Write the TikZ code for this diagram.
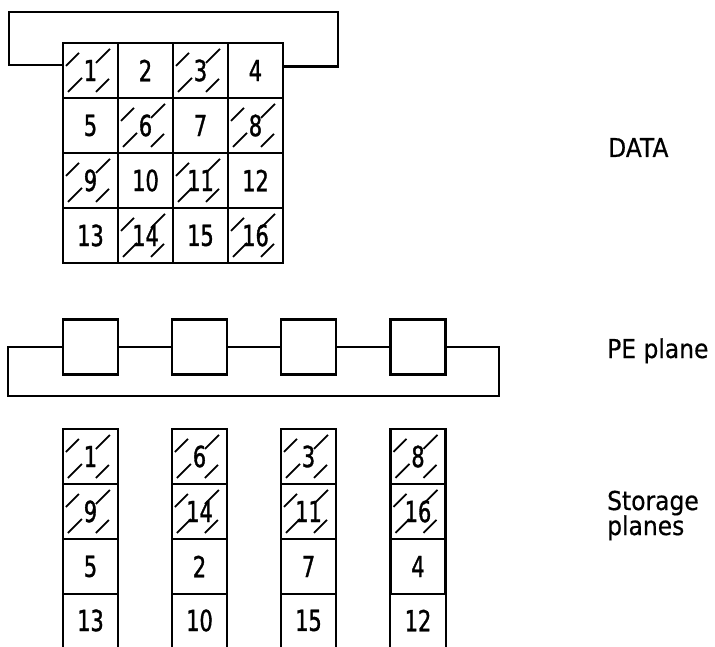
\documentclass[tikz,border=0pt]{standalone}
\usepackage{fontspec}
\setmainfont{DejaVu Sans}
\newfontfamily\labelfont[FakeStretch=0.9,FakeBold=0.6]{DejaVu Sans}
\newfontfamily\digitfont[FakeStretch=0.72,FakeBold=1.2]{DejaVu Sans}
\tikzset{
  numtext/.style={font=\digitfont\fontsize{29}{29}\selectfont},
  cell/.style={draw, line width=2.1pt, minimum width=55pt, minimum height=55pt, inner sep=0pt, numtext},
  opencell/.style={minimum width=55pt, minimum height=53pt, inner sep=0pt, numtext},
  hatchline/.style={line width=1.7pt},
  pebox/.style={draw, line width=2.1pt, minimum width=55pt, minimum height=55pt, inner sep=0pt},
  wire/.style={line width=2.1pt},
  label/.style={anchor=base west, font=\labelfont\fontsize{26}{26}\selectfont, inner sep=0pt}
}
\newcommand{\hatchcell}[1]{%
  \draw[hatchline] ([shift={(4,24)}]#1.north west) -- ([shift={(17,11)}]#1.north west)
    ([shift={(34,21)}]#1.north west) -- ([shift={(48,7)}]#1.north west)
    ([shift={(6,50)}]#1.north west) -- ([shift={(20,36)}]#1.north west)
    ([shift={(34,50)}]#1.north west) -- ([shift={(47,37)}]#1.north west);}
\begin{document}
\begin{tikzpicture}[x=1pt,y=-1pt]
\useasboundingbox (0,0) rectangle (715,647);
% DATA grid
\node[cell] (d1)  at (90.5,70.5) {1};
\node[cell] (d2)  at (145.5,70.5) {2};
\node[cell] (d3)  at (200.5,70.5) {3};
\node[cell] (d4)  at (255.5,70.5) {4};
\node[cell] (d5)  at (90.5,125.5) {5};
\node[cell] (d6)  at (145.5,125.5) {6};
\node[cell] (d7)  at (200.5,125.5) {7};
\node[cell] (d8)  at (255.5,125.5) {8};
\node[cell] (d9)  at (90.5,180.5) {9};
\node[cell] (d10) at (145.5,180.5) {10};
\node[cell] (d11) at (200.5,180.5) {11};
\node[cell] (d12) at (255.5,180.5) {12};
\node[cell] (d13) at (90.5,235.5) {13};
\node[cell] (d14) at (145.5,235.5) {14};
\node[cell] (d15) at (200.5,235.5) {15};
\node[cell] (d16) at (255.5,235.5) {16};
\foreach \n in {d1,d3,d6,d8,d9,d11,d14,d16}{\hatchcell{\n}}
\coordinate (tl) at (9,12);
\coordinate (tr) at (338,12);
\draw[wire] ([yshift=5.5pt]d1.west) -| (tl) -- (tr) |- ([yshift=4pt]d4.east);
% PE plane
\node[pebox] (p1) at (90.5,347) {};
\node[pebox] (p2) at (199.5,347) {};
\node[pebox] (p3) at (308.5,347) {};
\node[pebox] (p4) at (418,347) {};
\coordinate (br) at (499,396);
\coordinate (bl) at (8,347);
\draw[wire] (p1) -- (p2) (p2) -- (p3) (p3) -- (p4);
\draw[wire] (p4.east) -| (br) -| (bl) -- (p1.west);
% Storage planes
\node[cell]     (st1)  at (90.5,456.5) {1};
\node[cell]     (st9)  at (90.5,511.5) {9};
\node[cell]     (st5)  at (90.5,566.5) {5};
\node[opencell] (st13) at (90.5,620.5) {13};
\node[cell]     (st6)  at (199.5,456.5) {6};
\node[cell]     (st14) at (199.5,511.5) {14};
\node[cell]     (st2)  at (199.5,566.5) {2};
\node[opencell] (st10) at (199.5,620.5) {10};
\node[cell]     (st3)  at (308.5,456.5) {3};
\node[cell]     (st11) at (308.5,511.5) {11};
\node[cell]     (st7)  at (308.5,566.5) {7};
\node[opencell] (st15) at (308.5,620.5) {15};
\node[cell]     (st8)  at (418,456.5) {8};
\node[cell]     (st16) at (418,511.5) {16};
\node[cell]     (st4)  at (418,566.5) {4};
\node[opencell] (st12) at (418,620.5) {12};
\foreach \n in {st1,st9,st6,st14,st3,st11,st8,st16}{\hatchcell{\n}}
\foreach \n in {st13,st10,st15,st12}{
  \draw[wire] (\n.north west) -- (\n.south west);
  \draw[wire] (\n.north east) -- (\n.south east);
}
% Labels
\node[label] (ldata) at (608,157) {DATA};
\node[label] (lpe) at (607,358) {PE plane};
\node[label] (lst1) at (607,510) {Storage};
\node[label] (lst2) at (607,535) {planes};
\end{tikzpicture}
\end{document}
